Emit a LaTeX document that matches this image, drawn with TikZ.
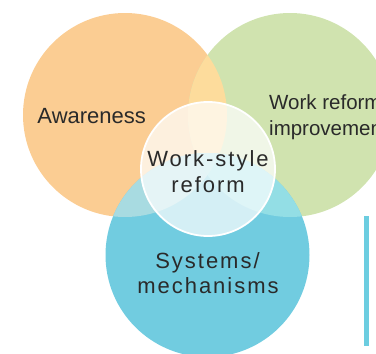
\documentclass[tikz,border=0pt]{standalone}
\usepackage{fontspec}
\setmainfont{Liberation Sans}
\newfontfamily\spacedfont[LetterSpace=9]{Liberation Sans}
\definecolor{corange}{HTML}{FBCD93}
\definecolor{cgreen}{HTML}{D0E3AF}
\definecolor{cblue}{HTML}{71CCE0}
\definecolor{cog}{HTML}{FDDC9C}
\definecolor{cbo}{HTML}{A8DBE1}
\definecolor{cbg}{HTML}{93DEE5}
\definecolor{cobg}{HTML}{A6E0E2}
\definecolor{cbar}{HTML}{6CCDE0}
\definecolor{ctext}{HTML}{2A2A2A}
\tikzset{
  lbl/.style={inner sep=0pt, text=ctext, font=\fontsize{21}{26}\selectfont},
  clbl/.style={inner sep=0pt, text=ctext, font=\spacedfont\fontsize{22}{27}\selectfont},
  bigc/.style={circle, inner sep=0pt, minimum size=204pt},
}
\begin{document}
\begin{tikzpicture}[x=1pt,y=-1pt]
\useasboundingbox (0,0) rectangle (376,354);
\coordinate (co) at (125,115);
\coordinate (cg) at (290,115);
\coordinate (cb) at (207.5,255);
\coordinate (cw) at (208,169);
% base circles
\node[bigc, fill=corange] (orange) at (co) {};
\node[bigc, fill=cgreen] (green) at (cg) {};
\node[bigc, fill=cblue] (blue) at (cb) {};
% overlaps
\begin{scope}
  \clip (co) circle[radius=102pt];
  \fill[cog] (cg) circle[radius=102pt];
  \fill[cbo] (cb) circle[radius=102pt];
\end{scope}
\begin{scope}
  \clip (cg) circle[radius=102pt];
  \fill[cbg] (cb) circle[radius=102pt];
\end{scope}
\begin{scope}
  \clip (co) circle[radius=102pt];
  \clip (cg) circle[radius=102pt];
  \fill[cobg] (cb) circle[radius=102pt];
\end{scope}
% centre circle
\node[circle, inner sep=0pt, minimum size=134pt, fill=white, fill opacity=0.7, draw=white, line width=1.8pt] (centre) at (cw) {};
% labels
\node[lbl, anchor=base west, font=\fontsize{22}{26}\selectfont] (aware) at (37.3,123) {Awareness};
\node[lbl, anchor=base west, font=\fontsize{20.5}{26}\selectfont] (work1) at (269,109) {Work reform};
\node[lbl, anchor=base west, font=\fontsize{20.5}{26}\selectfont] (work2) at (269,135) {improvement};
\node[clbl, anchor=base] (ws1) at (208,166.5) {Work-style};
\node[clbl, anchor=base] (ws2) at (208,192.5) {reform};
\node[clbl, anchor=base] (sys1) at (207.5,268) {Systems/};
\node[clbl, anchor=base] (sys2) at (208,293.3) {mechanisms};
% bar
\fill[cbar] (364,216) rectangle (369,346);
\end{tikzpicture}
\end{document}
